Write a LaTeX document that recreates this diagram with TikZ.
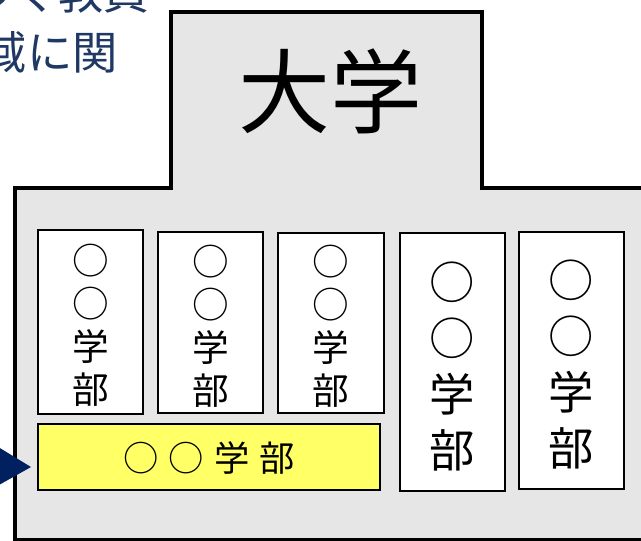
\documentclass[tikz,border=0pt]{standalone}
\usepackage{fontspec}
\setmainfont{Noto Sans CJK JP}
\usetikzlibrary{fit}
\definecolor{bodygray}{RGB}{230,230,230}
\definecolor{navy}{RGB}{0,32,96}
\definecolor{textblue}{RGB}{31,56,100}
\definecolor{facyellow}{RGB}{255,255,102}
\tikzset{
  building/.style={draw=black, line width=3pt, fill=bodygray, line join=miter},
  facbox/.style={draw=black, line width=1.5pt, fill=white, inner sep=0pt},
  yellowbox/.style={facbox, fill=facyellow},
  smalltxt/.style={inner sep=0pt, align=center, font=\fontsize{27.5}{32.25}\selectfont, yshift=-2.6pt},
  bigtxt/.style={inner sep=0pt, align=center, font=\fontsize{34}{42}\selectfont, yshift=-3.2pt},
  yellowtxt/.style={inner sep=0pt, font=\fontsize{26.5}{30}\selectfont, yshift=-0.8pt},
  toptext/.style={text=textblue, inner sep=0pt, font=\fontsize{34}{40}\selectfont},
  arrowhead/.style={fill=navy, draw=none}
}
\begin{document}
\begin{tikzpicture}[x=0.75pt,y=-0.75pt]
\useasboundingbox (0,0) rectangle (641,540);
% caption text behind
\node[toptext, anchor=base east] (t1) at (149,9) {づく教員};
\node[toptext, anchor=base east] (t2) at (118,69) {域に関};
% building
\draw[building] (15,540) -- (15,188) -- (171,188) -- (171,12) -- (482,12) -- (482,188) -- (660,188) -- (660,540) -- cycle;
\node[font=\fontsize{69}{70}\selectfont, inner sep=0pt] (univ) at (330,91) {大学};
% faculties
\node[facbox, fit={(38,230)(143,414)}] (f1) {};
\node[facbox, fit={(158,232)(263,413)}] (f2) {};
\node[facbox, fit={(278,233)(384,413)}] (f3) {};
\node[facbox, fit={(400,233)(505,491)}] (f4) {};
\node[facbox, fit={(519,232)(624,489)}] (f5) {};
\node[yellowbox, fit={(38,424)(380,490)}] (fy) {};
\node[smalltxt] (l1) at (f1.center) {○\\○\\学\\部};
\node[smalltxt] (l2) at (f2.center) {○\\○\\学\\部};
\node[smalltxt] (l3) at (f3.center) {○\\○\\学\\部};
\node[bigtxt] (l4) at (f4.center) {○\\○\\学\\部};
\node[bigtxt] (l5) at (f5.center) {○\\○\\学\\部};
\node[yellowtxt] (ly) at (fy.center) {○\hspace{7.5pt}○\hspace{7.5pt}学\hspace{7.5pt}部};
% arrow head pointing at the yellow faculty
\coordinate (atip) at (31,467);
\fill[arrowhead] (-10,442) -- (atip) -- (-10,490) -- cycle;
\end{tikzpicture}
\end{document}
